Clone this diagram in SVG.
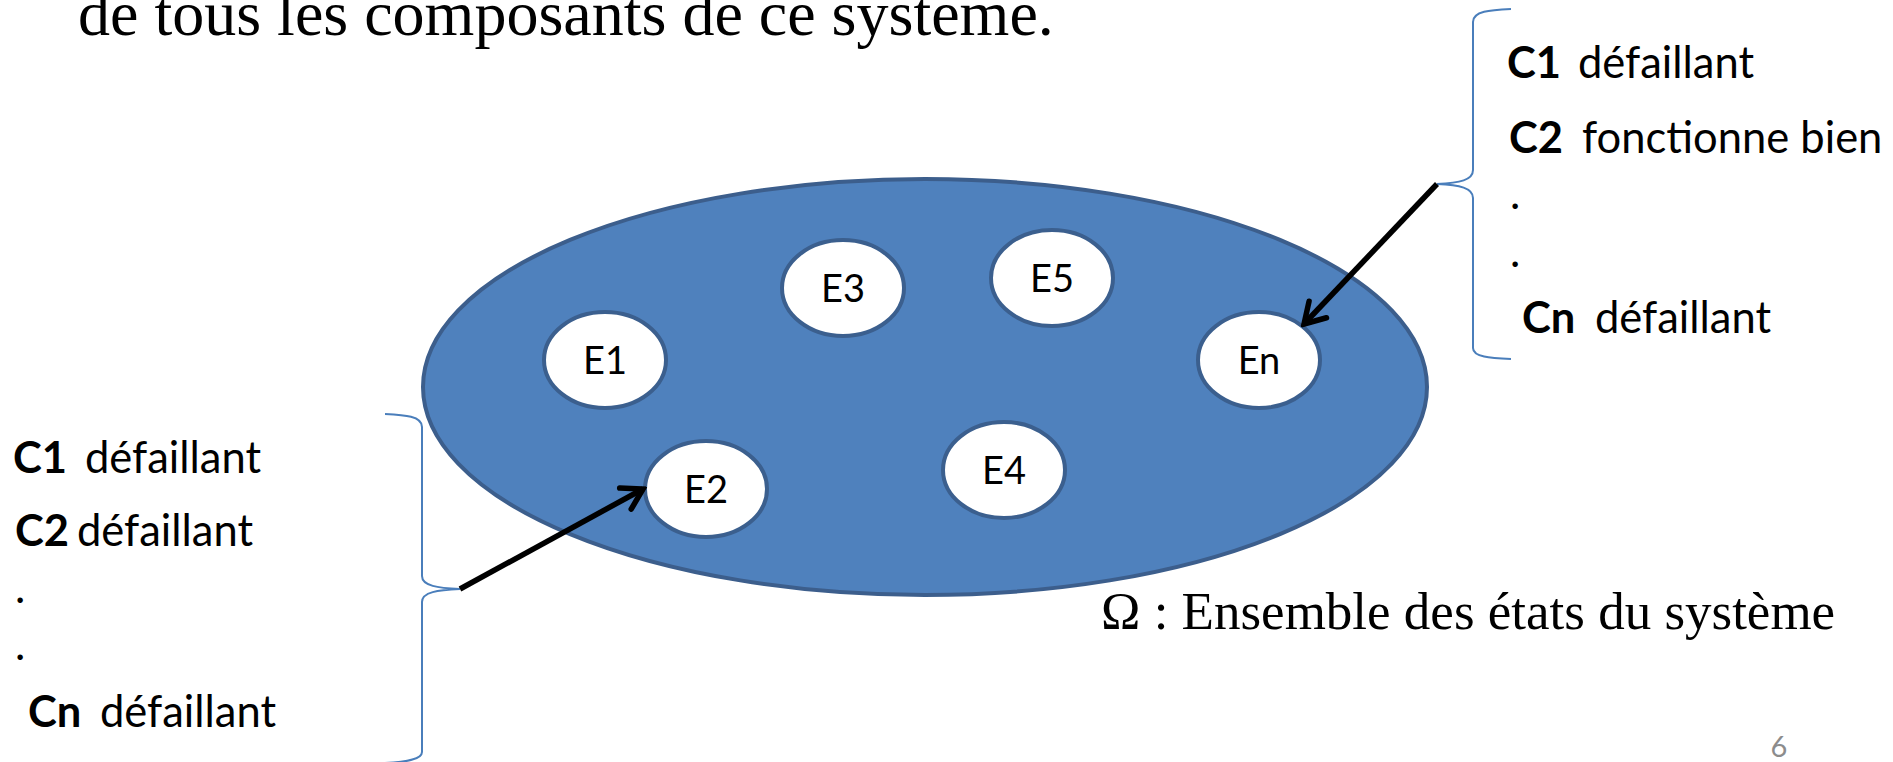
<svg xmlns="http://www.w3.org/2000/svg" width="1893" height="762" viewBox="0 0 1893 762">
  <defs>
    <style>
      .serif { font-family: "Liberation Serif", "Times New Roman", serif; fill: #000; }
      .sans { font-family: Lato, "Open Sans", sans-serif; fill: #000; }
      .lst { font-size: 43.5px; }
      .b { font-weight: bold; }
      .state { fill: #ffffff; stroke: #3b5f8e; stroke-width: 4; }
      .lbl { font-family: Lato, "Open Sans", sans-serif; font-size: 38px; fill: #000; text-anchor: middle; }
      .brace { fill: none; stroke: #4a7ebb; stroke-width: 2; }
      .conn { fill: none; stroke: #000; stroke-width: 5.5; }
    </style>
    <marker id="arrowhead" markerUnits="userSpaceOnUse" markerWidth="34" markerHeight="34" viewBox="0 0 34 34" refX="30" refY="17" orient="auto">
      <path d="M10,5 L30,17 L10,29" fill="none" stroke="#000" stroke-width="5.5" stroke-linecap="round" stroke-linejoin="miter"/>
    </marker>
  </defs>

  <!-- heading line -->
  <text class="serif" x="78" y="35" font-size="64">de tous les composants de ce système.</text>

  <!-- state space -->
  <g id="omega">
    <ellipse cx="925" cy="387" rx="502" ry="208" fill="#4f81bd" stroke="#3c5e8c" stroke-width="4"/>
  </g>

  <g id="E1"><ellipse class="state" cx="605" cy="360" rx="61" ry="48"/><text class="lbl" x="605" y="374">E1</text></g>
  <g id="E3"><ellipse class="state" cx="843" cy="288" rx="61" ry="48"/><text class="lbl" x="843" y="302">E3</text></g>
  <g id="E5"><ellipse class="state" cx="1052" cy="278" rx="61" ry="48"/><text class="lbl" x="1052" y="292">E5</text></g>
  <g id="En"><ellipse class="state" cx="1259" cy="360" rx="61" ry="48"/><text class="lbl" x="1259" y="374">En</text></g>
  <g id="E2"><ellipse class="state" cx="706" cy="489" rx="61" ry="48"/><text class="lbl" x="706" y="503">E2</text></g>
  <g id="E4"><ellipse class="state" cx="1004" cy="470" rx="61" ry="48"/><text class="lbl" x="1004" y="484">E4</text></g>

  <!-- component states for En -->
  <g id="list-right">
    <path class="brace" d="M1511,9 C1490,10 1473,11 1473,22 L1473,170 C1473,180 1460,183 1437,184 C1460,185 1473,188 1473,198 L1473,348 C1473,357 1490,358 1511,359"/>
    <text class="sans lst" y="78"><tspan class="b" x="1507">C1</tspan><tspan x="1578">défaillant</tspan></text>
    <text class="sans lst" y="153"><tspan class="b" x="1509">C2</tspan><tspan x="1582">fonctionne bien</tspan></text>
    <text class="sans lst" x="1510" y="209">.</text>
    <text class="sans lst" x="1510" y="267">.</text>
    <text class="sans lst" y="333"><tspan class="b" x="1522">Cn</tspan><tspan x="1595">défaillant</tspan></text>
  </g>

  <!-- component states for E2 -->
  <g id="list-left">
    <path class="brace" d="M385,414 C405,415 422,416 422,427 L422,576 C422,586 438,588 460,589 C438,590 422,592 422,602 L422,752 C422,760 405,762 385,763"/>
    <text class="sans lst" y="473"><tspan class="b" x="13">C1</tspan><tspan x="85">défaillant</tspan></text>
    <text class="sans lst" y="546"><tspan class="b" x="15">C2</tspan><tspan x="77">défaillant</tspan></text>
    <text class="sans lst" x="15" y="603">.</text>
    <text class="sans lst" x="15" y="660">.</text>
    <text class="sans lst" y="727"><tspan class="b" x="28">Cn</tspan><tspan x="100">défaillant</tspan></text>
  </g>

  <!-- connectors -->
  <g id="connectors">
    <line class="conn" x1="1437" y1="184" x2="1304" y2="324" marker-end="url(#arrowhead)"/>
    <line class="conn" x1="460" y1="589" x2="643" y2="489" marker-end="url(#arrowhead)"/>
  </g>

  <!-- caption -->
  <text class="serif" x="1101" y="629" font-size="53">Ω : Ensemble des états du système</text>

  <!-- page number -->
  <text x="1779" y="757" font-family="Lato, 'Open Sans', sans-serif" font-size="29" fill="#8c8c8c" text-anchor="middle">6</text>
</svg>
